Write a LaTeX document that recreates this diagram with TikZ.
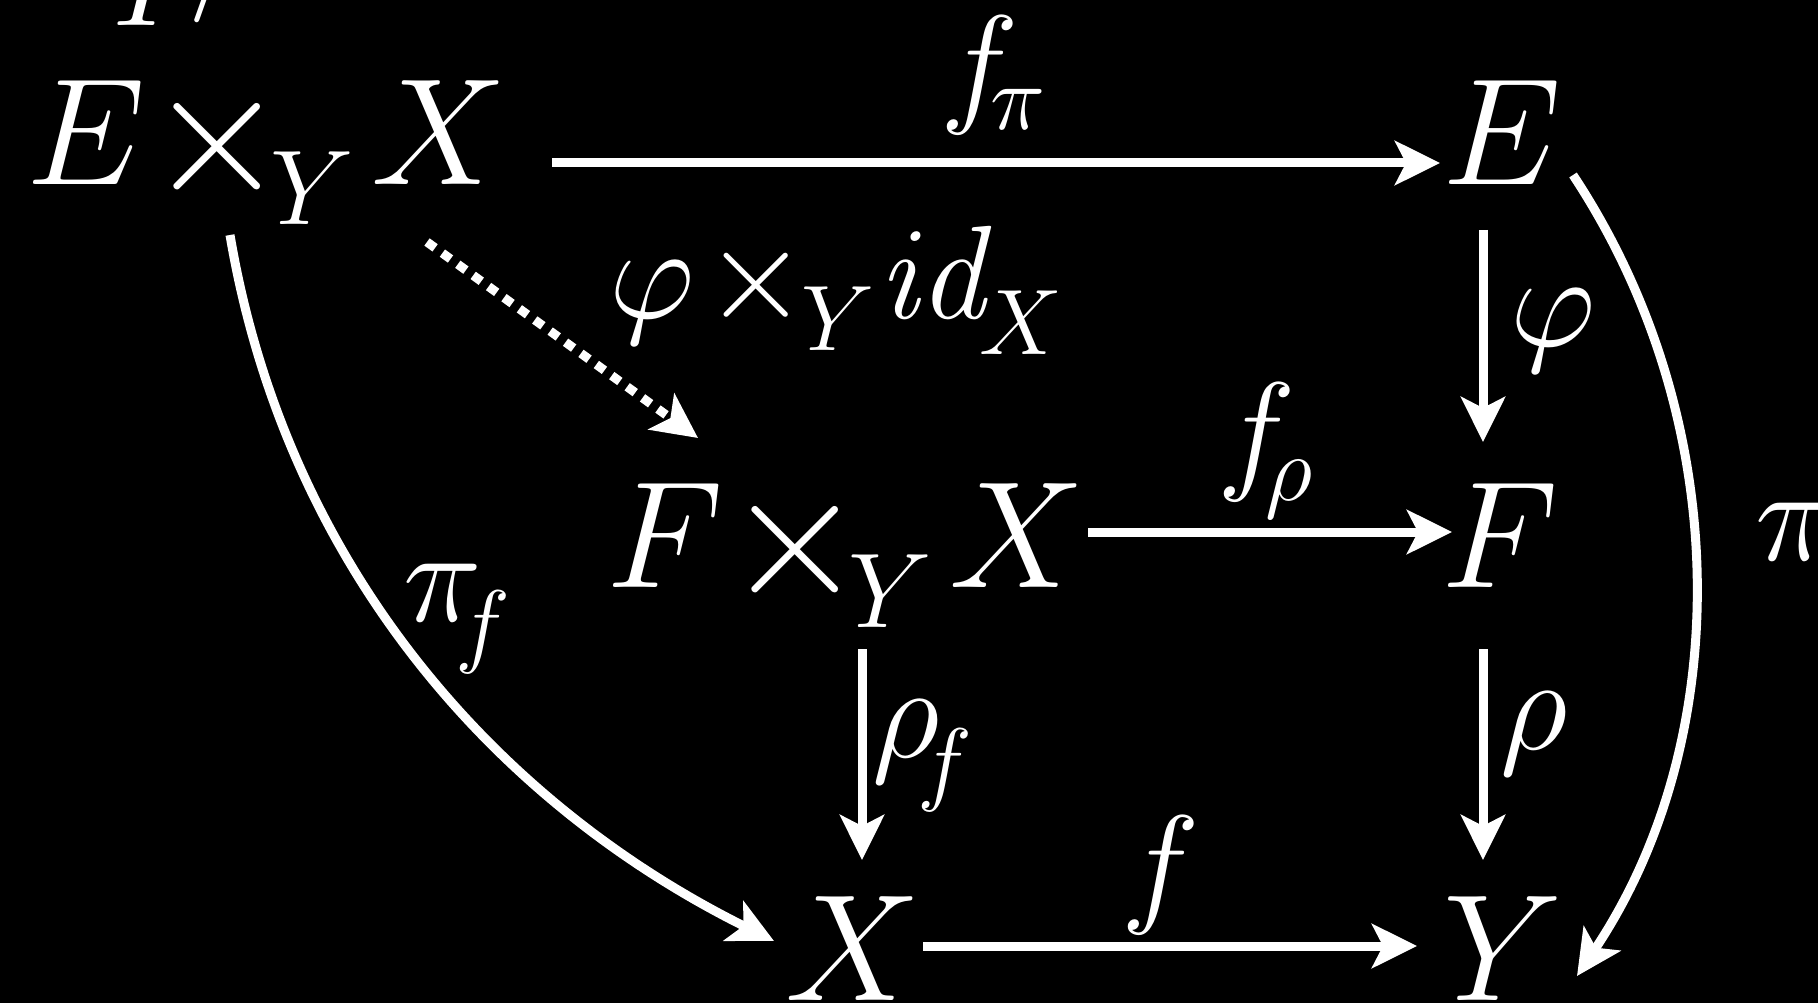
\RequirePackage{fix-cm}
\documentclass[tikz,border=0pt]{standalone}
\usepackage{graphicx}
\usetikzlibrary{arrows.meta,calc}
\newcommand\bigf{\fontsize{152}{160}\selectfont}
\newcommand\labf{\fontsize{133}{140}\selectfont}
\newcommand\ms[2]{\raisebox{-#1pt}{$\scriptstyle #2$}}
\newcommand\btimes{\raisebox{-7pt}{\scalebox{1.18}{$\times$}}}
\begin{document}
\begin{tikzpicture}[x=1pt,y=-1pt,
  every node/.style={inner sep=0pt,outer sep=0pt,text=white,anchor=base west},
  obj/.style={font=\bigf},
  lab/.style={font=\labf},
  arr/.style={draw=white,line width=9pt,-{Stealth[length=45pt,width=44pt,inset=11pt]}},
  dotarr/.style={arr,dash pattern=on 10pt off 9pt}]
\fill[black] (0,0) rectangle (1818,1003);
\useasboundingbox (0,0) rectangle (1818,1003);
% objects
\node[obj] (TL) at (26,185) {$E$\kern 2.5pt\btimes\kern -17pt\ms{40}{Y}\kern 17.5pt$X$};
\node[obj] (E) at (1442,185) {$E$};
\node[obj] (M) at (606,587) {$F$\kern 2.5pt\btimes\kern -17pt\ms{40}{Y}\kern 17.5pt$X$};
\node[obj] (F) at (1441,587) {$F$};
\node[obj] (X) at (785,1000) {$X$};
\node[obj] (Y) at (1443,1000) {$Y$};
% labels
\node[lab] (lfpi) at (940,109) {$f$\kern -28pt\ms{21}{\pi}};
\node[lab] (lphi) at (1510,346) {$\varphi$};
\node[lab] (lfrho) at (1217,475) {$f$\kern -30pt\ms{25}{\rho}};
\node[lab] (lrho) at (1500,749) {$\rho$};
\node[lab] (lrhof) at (872,757) {$\rho$\kern -22pt\ms{36}{f}};
\node[lab] (lf) at (1121,908) {$f$};
\node[lab] (lpif) at (403,621) {$\pi$\kern -26pt\ms{34}{f}};
\node[lab] (ldiag) at (609,318) {$\varphi$\kern 10pt$\times$\kern -6pt\ms{32}{Y}\kern 4pt$\mathit{id}$\kern -20pt\ms{36}{X}};
\node[lab] (lpi) at (1755,560) {$\pi$};
\node[lab] (ltop) at (112,26) {$I$\kern 8pt\raisebox{36pt}{$/$}};
% arrows
\draw[arr] ($(TL.base west)+(526,-22)$) -- ($(E.base west)+(-2,-22)$);
\draw[arr] ($(E.base west)+(41,45)$) -- ($(F.base west)+(42,-145)$);
\draw[arr] ($(F.base west)+(42,62)$) -- ($(Y.base west)+(40,-140)$);
\draw[arr] ($(M.base west)+(482,-55)$) -- ($(F.base west)+(11,-55)$);
\draw[arr] ($(M.base west)+(256,62)$) -- ($(X.base west)+(77,-140)$);
\draw[arr] ($(X.base west)+(138,-54)$) -- ($(Y.base west)+(-26,-54)$);
\draw[dotarr] ($(TL.base west)+(401,57)$) -- ($(M.base west)+(92,-149)$);
\draw[arr] ($(TL.base west)+(204,50)$) .. controls (285,560) and (490,800) .. ($(X.base west)+(-11,-59)$);
\draw[arr] ($(E.base west)+(131,-10)$) .. controls (1735,420) and (1735,740) .. ($(Y.base west)+(134,-24)$);
\end{tikzpicture}
\end{document}
